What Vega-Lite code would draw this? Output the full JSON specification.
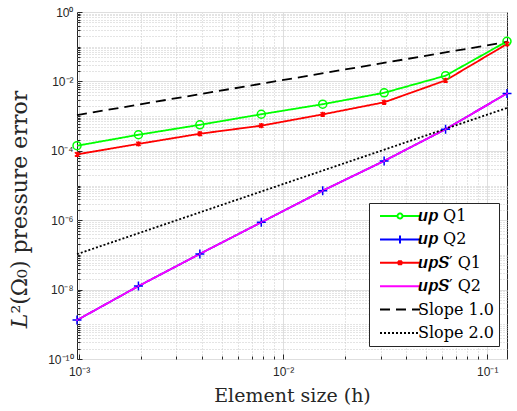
{
  "$schema": "https://vega.github.io/schema/vega-lite/v6.json",
  "width": 430,
  "height": 347,
  "autosize": {"type": "none"},
  "padding": {"left": 77, "top": 12, "right": 10, "bottom": 52},
  "background": "white",
  "config": {
    "view": {"stroke": "#262626", "strokeWidth": 1},
    "axis": {
      "domain": false,
      "labelFont": "Liberation Sans",
      "labelFontSize": 12,
      "labelColor": "#262626",
      "tickColor": "#262626",
      "titleFont": "DejaVu Serif",
      "titleFontSize": 19,
      "titleFontWeight": "normal",
      "titleColor": "#262626"
    }
  },
  "data": {
    "values": [
      {"series": "𝒖𝒑 Q1", "h": 0.0009765625, "err": 1.4e-4},
      {"series": "𝒖𝒑 Q1", "h": 0.001953125, "err": 2.9e-4},
      {"series": "𝒖𝒑 Q1", "h": 0.00390625, "err": 5.6e-4},
      {"series": "𝒖𝒑 Q1", "h": 0.0078125, "err": 1.13e-3},
      {"series": "𝒖𝒑 Q1", "h": 0.015625, "err": 2.2e-3},
      {"series": "𝒖𝒑 Q1", "h": 0.03125, "err": 4.7e-3},
      {"series": "𝒖𝒑 Q1", "h": 0.0625, "err": 1.46e-2},
      {"series": "𝒖𝒑 Q1", "h": 0.125, "err": 0.143},
      {"series": "𝒖𝒑 Q2", "h": 0.0009765625, "err": 1.32e-9},
      {"series": "𝒖𝒑 Q2", "h": 0.001953125, "err": 1.26e-8},
      {"series": "𝒖𝒑 Q2", "h": 0.00390625, "err": 1.07e-7},
      {"series": "𝒖𝒑 Q2", "h": 0.0078125, "err": 8.7e-7},
      {"series": "𝒖𝒑 Q2", "h": 0.015625, "err": 7.1e-6},
      {"series": "𝒖𝒑 Q2", "h": 0.03125, "err": 5.1e-5},
      {"series": "𝒖𝒑 Q2", "h": 0.0625, "err": 4.2e-4},
      {"series": "𝒖𝒑 Q2", "h": 0.125, "err": 4.5e-3},
      {"series": "𝒖𝒑𝑺′ Q1", "h": 0.0009765625, "err": 7.9e-5},
      {"series": "𝒖𝒑𝑺′ Q1", "h": 0.001953125, "err": 1.58e-4},
      {"series": "𝒖𝒑𝑺′ Q1", "h": 0.00390625, "err": 3.1e-4},
      {"series": "𝒖𝒑𝑺′ Q1", "h": 0.0078125, "err": 5.3e-4},
      {"series": "𝒖𝒑𝑺′ Q1", "h": 0.015625, "err": 1.12e-3},
      {"series": "𝒖𝒑𝑺′ Q1", "h": 0.03125, "err": 2.5e-3},
      {"series": "𝒖𝒑𝑺′ Q1", "h": 0.0625, "err": 1.07e-2},
      {"series": "𝒖𝒑𝑺′ Q1", "h": 0.125, "err": 0.12},
      {"series": "𝒖𝒑𝑺′ Q2", "h": 0.0009765625, "err": 1.32e-9},
      {"series": "𝒖𝒑𝑺′ Q2", "h": 0.001953125, "err": 1.26e-8},
      {"series": "𝒖𝒑𝑺′ Q2", "h": 0.00390625, "err": 1.07e-7},
      {"series": "𝒖𝒑𝑺′ Q2", "h": 0.0078125, "err": 8.7e-7},
      {"series": "𝒖𝒑𝑺′ Q2", "h": 0.015625, "err": 7.1e-6},
      {"series": "𝒖𝒑𝑺′ Q2", "h": 0.03125, "err": 5.1e-5},
      {"series": "𝒖𝒑𝑺′ Q2", "h": 0.0625, "err": 4.2e-4},
      {"series": "𝒖𝒑𝑺′ Q2", "h": 0.125, "err": 4.5e-3},
      {"series": "Slope 1.0", "h": 0.0009765625, "err": 1.07e-3},
      {"series": "Slope 1.0", "h": 0.125, "err": 0.137},
      {"series": "Slope 2.0", "h": 0.0009765625, "err": 1.05e-7},
      {"series": "Slope 2.0", "h": 0.125, "err": 1.72e-3}
    ]
  },
  "encoding": {
    "x": {
      "field": "h",
      "type": "quantitative",
      "scale": {"type": "log", "domain": [0.0009765625, 0.125], "nice": false},
      "axis": {
        "title": "Element size (h)",
        "titlePadding": 9,
        "values": [0.001, 0.002, 0.003, 0.004, 0.005, 0.006, 0.007, 0.008, 0.009, 0.01, 0.02, 0.03, 0.04, 0.05, 0.06, 0.07, 0.08, 0.09, 0.1],
        "labelExpr": "datum.value == 0.001 ? '10⁻³' : datum.value == 0.01 ? '10⁻²' : datum.value == 0.1 ? '10⁻¹' : ''",
        "labelPadding": 12,
        "labelFlush": false,
        "grid": true,
        "gridColor": {"condition": {"test": "indexof([0.001, 0.01, 0.1], datum.value) >= 0", "value": "#dedede"}, "value": "#c8c8c8"},
        "gridDash": {"condition": {"test": "indexof([0.001, 0.01, 0.1], datum.value) >= 0", "value": []}, "value": [1, 2]},
        "tickSize": {"condition": {"test": "indexof([0.001, 0.01, 0.1], datum.value) >= 0", "value": -5}, "value": -3}
      }
    },
    "y": {
      "field": "err",
      "type": "quantitative",
      "scale": {"type": "log", "domain": [1e-10, 1], "nice": false},
      "axis": {
        "title": "𝐿²(Ω₀) pressure error",
        "titleFontSize": 22,
        "titleAlign": "center",
        "titleY": 197,
        "values": [1e-10, 2e-10, 3e-10, 4e-10, 5e-10, 6e-10, 7e-10, 8e-10, 9e-10,
                   1e-9, 2e-9, 3e-9, 4e-9, 5e-9, 6e-9, 7e-9, 8e-9, 9e-9,
                   1e-8, 2e-8, 3e-8, 4e-8, 5e-8, 6e-8, 7e-8, 8e-8, 9e-8,
                   1e-7, 2e-7, 3e-7, 4e-7, 5e-7, 6e-7, 7e-7, 8e-7, 9e-7,
                   1e-6, 2e-6, 3e-6, 4e-6, 5e-6, 6e-6, 7e-6, 8e-6, 9e-6,
                   1e-5, 2e-5, 3e-5, 4e-5, 5e-5, 6e-5, 7e-5, 8e-5, 9e-5,
                   1e-4, 2e-4, 3e-4, 4e-4, 5e-4, 6e-4, 7e-4, 8e-4, 9e-4,
                   1e-3, 2e-3, 3e-3, 4e-3, 5e-3, 6e-3, 7e-3, 8e-3, 9e-3,
                   1e-2, 2e-2, 3e-2, 4e-2, 5e-2, 6e-2, 7e-2, 8e-2, 9e-2,
                   0.1, 0.2, 0.3, 0.4, 0.5, 0.6, 0.7, 0.8, 0.9, 1],
        "labelExpr": "datum.value == 1 ? '10⁰' : datum.value == 1e-2 ? '10⁻²' : datum.value == 1e-4 ? '10⁻⁴' : datum.value == 1e-6 ? '10⁻⁶' : datum.value == 1e-8 ? '10⁻⁸' : datum.value == 1e-10 ? '10⁻¹⁰' : ''",
        "labelPadding": 9,
        "labelFlush": false,
        "titlePadding": 16,
        "grid": true,
        "gridColor": {"condition": {"test": "indexof([1e-10, 1e-8, 1e-6, 1e-4, 1e-2, 1], datum.value) >= 0", "value": "#dedede"}, "value": "#c8c8c8"},
        "gridDash": {"condition": {"test": "indexof([1e-10, 1e-8, 1e-6, 1e-4, 1e-2, 1], datum.value) >= 0", "value": []}, "value": [1, 2]},
        "tickSize": {"condition": {"test": "indexof([1e-10, 1e-8, 1e-6, 1e-4, 1e-2, 1], datum.value) >= 0", "value": -5}, "value": -3}
      }
    }
  },
  "layer": [
    {
      "mark": {"type": "line", "strokeWidth": 1.8},
      "encoding": {
        "color": {
          "field": "series", "type": "nominal",
          "scale": {"domain": ["𝒖𝒑 Q1", "𝒖𝒑 Q2", "𝒖𝒑𝑺′ Q1", "𝒖𝒑𝑺′ Q2", "Slope 1.0", "Slope 2.0"],
                    "range": ["#00ff00", "#0000ff", "#ff0000", "#ff00ff", "#000000", "#000000"]}
        },
        "strokeDash": {
          "field": "series", "type": "nominal",
          "scale": {"domain": ["𝒖𝒑 Q1", "𝒖𝒑 Q2", "𝒖𝒑𝑺′ Q1", "𝒖𝒑𝑺′ Q2", "Slope 1.0", "Slope 2.0"],
                    "range": [[1, 0], [1, 0], [1, 0], [1, 0], [10, 6], [2, 2]]}
        }
      }
    },
    {
      "transform": [{"filter": {"field": "series", "equal": "𝒖𝒑 Q1"}}],
      "mark": {"type": "point", "shape": "circle", "size": 64, "filled": false, "color": "#00ff00", "strokeWidth": 1.5, "opacity": 1}
    },
    {
      "transform": [{"filter": {"field": "series", "equal": "𝒖𝒑 Q2"}}],
      "mark": {"type": "point", "shape": "M-1,0H1M0,-1V1", "size": 81, "filled": false, "color": "#0000ff", "strokeWidth": 1.5, "opacity": 1}
    },
    {
      "transform": [{"filter": {"field": "series", "equal": "𝒖𝒑𝑺′ Q1"}}],
      "mark": {"type": "point", "shape": "M-0.7,-0.7L0.7,0.7M-0.7,0.7L0.7,-0.7M0,-0.9V0.9", "size": 36, "filled": false, "color": "#ff0000", "strokeWidth": 1.5, "opacity": 1}
    },
    {
      "transform": [{"filter": {"field": "series", "equal": "𝒖𝒑𝑺′ Q2"}}],
      "mark": {"type": "point", "shape": "circle", "size": 4, "filled": true, "color": "#ff00ff", "opacity": 1}
    },
    {
      "mark": {"type": "point", "filled": false, "opacity": 0},
      "encoding": {
        "color": {
          "field": "series", "type": "nominal",
          "scale": {"domain": ["𝒖𝒑 Q1", "𝒖𝒑 Q2", "𝒖𝒑𝑺′ Q1", "𝒖𝒑𝑺′ Q2", "Slope 1.0", "Slope 2.0"],
                    "range": ["#00ff00", "#0000ff", "#ff0000", "#ff00ff", "#000000", "#000000"]},
          "legend": {
            "title": null,
            "orient": "none",
            "legendX": 292,
            "legendY": 191,
            "symbolSize": 100,
            "symbolStrokeWidth": 2,
            "symbolOpacity": 1,
            "labelFont": "DejaVu Serif",
            "labelFontSize": 16,
            "labelColor": "#000000",
            "labelOffset": 10,
            "rowPadding": 7.4,
            "padding": 5,
            "strokeColor": "#262626",
            "fillColor": "#ffffff",
            "symbolOffset": 18,
            "encode": {"symbols": {"update": {"opacity": {"value": 1}}}}
          }
        },
        "shape": {
          "field": "series", "type": "nominal",
          "scale": {"domain": ["𝒖𝒑 Q1", "𝒖𝒑 Q2", "𝒖𝒑𝑺′ Q1", "𝒖𝒑𝑺′ Q2", "Slope 1.0", "Slope 2.0"],
                    "range": ["M-4,0H-0.5M0.5,0H4M0.5,0A0.5,0.5 0 1 1 -0.5,0A0.5,0.5 0 1 1 0.5,0",
                              "M-4,0H4M0,-0.8V0.8",
                              "M-4,0H4M-0.4,-0.4L0.4,0.4M-0.4,0.4L0.4,-0.4M0,-0.5V0.5",
                              "M-4,0H4",
                              "M-4,0H4",
                              "M-4,0H4"]}
        },
        "strokeDash": {
          "field": "series", "type": "nominal",
          "scale": {"domain": ["𝒖𝒑 Q1", "𝒖𝒑 Q2", "𝒖𝒑𝑺′ Q1", "𝒖𝒑𝑺′ Q2", "Slope 1.0", "Slope 2.0"],
                    "range": [[1, 0], [1, 0], [1, 0], [1, 0], [10, 6], [2, 2]]}
        }
      }
    }
  ]
}
